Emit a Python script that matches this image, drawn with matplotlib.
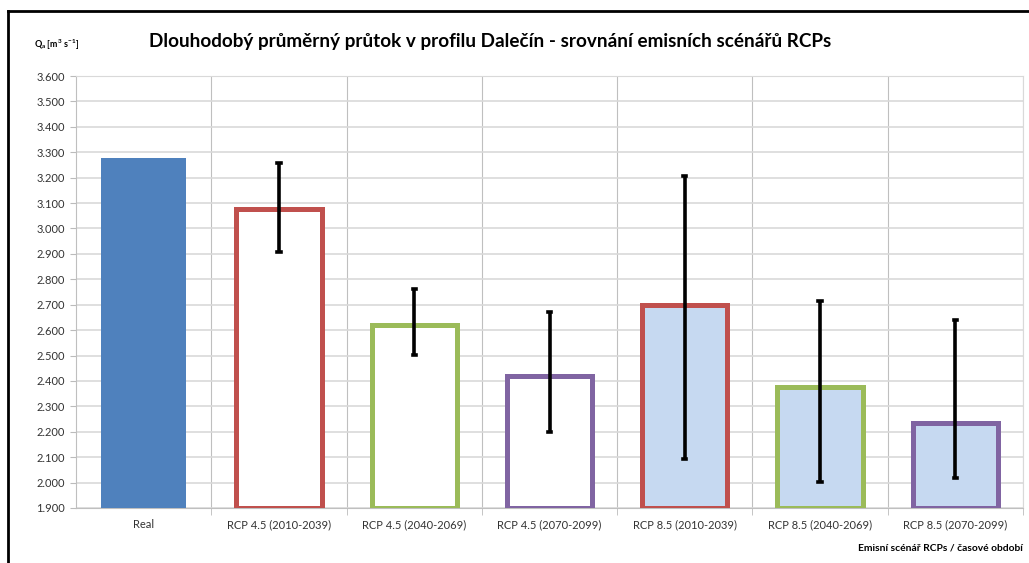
import matplotlib
matplotlib.use('Agg')
import matplotlib.pyplot as plt
from matplotlib.lines import Line2D

plt.rcParams['font.family'] = ['Lato', 'DejaVu Sans']

categories = ['Real', 'RCP 4.5 (2010-2039)', 'RCP 4.5 (2040-2069)', 'RCP 4.5 (2070-2099)',
              'RCP 8.5 (2010-2039)', 'RCP 8.5 (2040-2069)', 'RCP 8.5 (2070-2099)']
values = [3.278, 3.077, 2.620, 2.419, 2.698, 2.376, 2.234]
err_high = [None, 3.257, 2.761, 2.671, 3.206, 2.714, 2.639]
err_low = [None, 2.907, 2.502, 2.198, 2.092, 2.002, 2.017]
y_ticks = [1.9 + 0.1 * i for i in range(18)]

fills = ['#4F81BD', 'white', 'white', 'white', '#C6D9F1', '#C6D9F1', '#C6D9F1']
edges = ['#4F81BD', '#C0504D', '#9BBB59', '#8064A2', '#C0504D', '#9BBB59', '#8064A2']

fig = plt.figure(figsize=(10.29, 5.63), dpi=100)
ax = fig.add_axes([76 / 1029, 1 - 508 / 563, (1023 - 76) / 1029, (508 - 76) / 563])

base = 1.9
x = list(range(len(categories)))
for i in x:
    lw = 0 if i == 0 else 3.6
    ax.bar(i, values[i] - base, bottom=base, width=0.63, color=fills[i],
           edgecolor=edges[i], linewidth=lw, zorder=3)
    if err_high[i] is not None:
        ax.plot([i, i], [err_low[i], err_high[i]], color='black', lw=2.6,
                solid_capstyle='butt', zorder=4)
        ax.plot([i - 0.012, i + 0.012], [err_high[i], err_high[i]], color='black', lw=2.6, zorder=4)
        ax.plot([i - 0.012, i + 0.012], [err_low[i], err_low[i]], color='black', lw=2.6, zorder=4)

ax.set_xlim(-0.5, len(categories) - 0.5)
ax.set_ylim(1.9, 3.6)
ax.set_yticks(y_ticks)
ax.set_yticklabels(['%.3f' % v for v in y_ticks], fontsize=8, color='#333333')
ax.set_xticks(x)
ax.set_xticklabels(categories, fontsize=8, color='#333333')
ax.set_xticks([i + 0.5 for i in x], minor=True)
ax.tick_params(axis='x', which='major', length=0, pad=8)
ax.tick_params(axis='x', which='minor', length=5, color='#BBBBBB')
ax.tick_params(axis='y', length=4, color='#BBBBBB', pad=4)

ax.grid(axis='y', color='#D9D9D9', lw=1.2, zorder=0)
ax.grid(axis='x', which='minor', color='#BFBFBF', lw=0.8, zorder=0)
for s in ['top', 'right']:
    ax.spines[s].set_color('#D9D9D9')
ax.spines['left'].set_color('#BFBFBF')
ax.spines['bottom'].set_color('#BFBFBF')

fig.text(490 / 1029, 1 - 42 / 563, 'Dlouhodobý průměrný průtok v profilu Dalečín - srovnání emisních scénářů RCPs',
         ha='center', va='center', fontsize=13.6, fontweight='bold')
fig.text(34 / 1029, 1 - 45 / 563, r'Q$_{\mathregular{a}}$ [m$^{\mathregular{3}}$ s$^{\mathregular{-1}}$]',
         ha='left', va='center', fontsize=6.5, fontweight='bold')
fig.text(1023 / 1029, 1 - 548 / 563, 'Emisní scénář RCPs / časové období',
         ha='right', va='center', fontsize=7.4, fontweight='bold')

# frame lines at top and left
fig.add_artist(Line2D([8 / 1029, 1], [1 - 11 / 563, 1 - 11 / 563], color='black', lw=2))
fig.add_artist(Line2D([8 / 1029, 8 / 1029], [0, 1 - 11 / 563], color='black', lw=2))

fig.savefig('out.png', dpi=100)
